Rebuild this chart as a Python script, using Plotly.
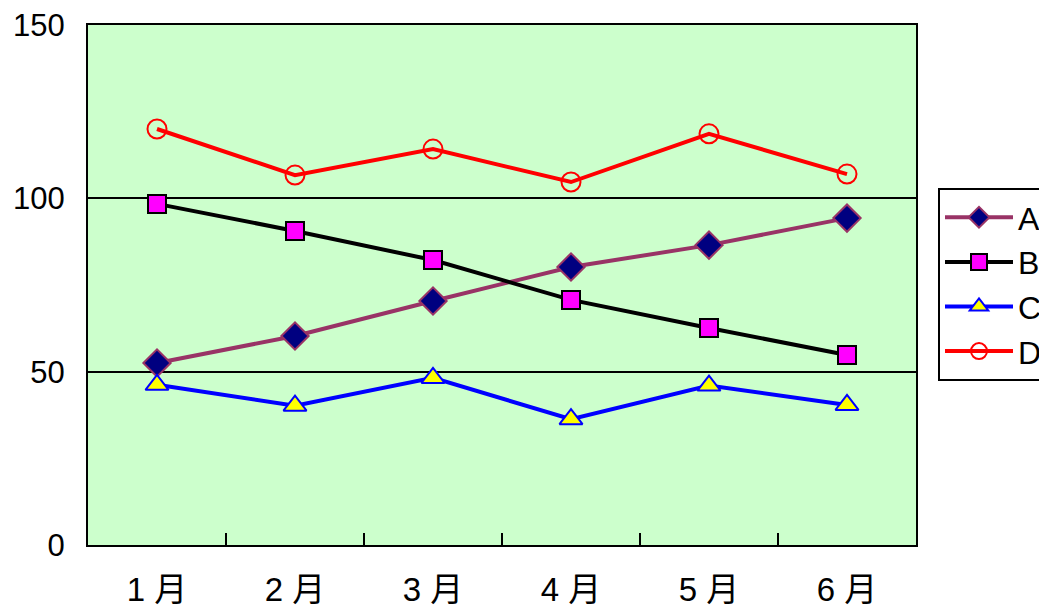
import plotly.graph_objects as go

categories = ["1 月", "2 月", "3 月", "4 月", "5 月", "6 月"]
series_a = [52.5, 60.3, 70.4, 80.2, 86.5, 94.3]
series_b = [98.4, 90.6, 82.2, 70.7, 62.6, 54.8]
series_c = [46.2, 40.2, 48.2, 36.3, 46.0, 40.4]
series_d = [120.0, 106.7, 114.2, 104.7, 118.6, 107.0]
y_ticks = [0, 50, 100, 150]

fig = go.Figure()
fig.add_trace(go.Scatter(
    x=categories, y=series_a, name="A", mode="lines+markers",
    line=dict(color="#993366", width=4),
    marker=dict(symbol="diamond", size=21, color="#000080",
                line=dict(color="#993366", width=2))))
fig.add_trace(go.Scatter(
    x=categories, y=series_b, name="B", mode="lines+markers",
    line=dict(color="#000000", width=4),
    marker=dict(symbol="square", size=18, color="#FF00FF",
                line=dict(color="#000000", width=2))))
fig.add_trace(go.Scatter(
    x=categories, y=series_c, name="C", mode="lines+markers",
    line=dict(color="#0000FF", width=4),
    marker=dict(symbol="triangle-up", size=20, color="#FFFF00",
                line=dict(color="#0000FF", width=2))))
fig.add_trace(go.Scatter(
    x=categories, y=series_d, name="D", mode="lines+markers",
    line=dict(color="#FF0000", width=4),
    marker=dict(symbol="circle-open", size=19, color="#FF0000",
                line=dict(color="#FF0000", width=2))))

fig.update_layout(
    width=1039, height=607,
    margin=dict(l=88, r=123, t=25, b=62, autoexpand=False),
    paper_bgcolor="white", plot_bgcolor="#CCFFCC",
    font=dict(family="Liberation Sans, Arial, Noto Sans CJK SC", size=30, color="black"),
    showlegend=True,
    legend=dict(xref="container", yref="container", x=938/1039, y=1-188/607,
                xanchor="left", yanchor="top", bgcolor="white",
                bordercolor="black", borderwidth=2,
                font=dict(size=32, family="Liberation Sans, Arial"),
                itemwidth=68, tracegroupgap=0),
)
fig.update_xaxes(
    range=[-0.5, 5.5], automargin=False,
    showline=True, linecolor="black", linewidth=2, mirror=True,
    ticks="inside", tickson="boundaries", ticklen=12, tickwidth=2, tickcolor="black",
    showgrid=False, tickfont=dict(family="Liberation Sans, Noto Sans CJK SC", size=33),
    ticklabelstandoff=14,
)
fig.update_yaxes(
    range=[0, 150], tickvals=y_ticks, automargin=False,
    showline=True, linecolor="black", linewidth=2,
    mirror=True, showgrid=True, gridcolor="black", gridwidth=2, zeroline=False,
    ticks="", tickfont=dict(size=31), ticklabelstandoff=15,
)
fig.write_html("out.html")
